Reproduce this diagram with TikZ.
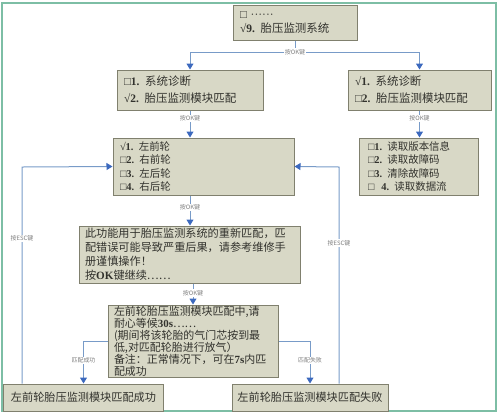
\documentclass[tikz,border=0pt]{standalone}
\usepackage{fontspec}
\setmainfont{Noto Sans CJK SC}
\newfontfamily\lat{Liberation Serif}
\usetikzlibrary{arrows.meta}
\definecolor{boxfill}{RGB}{216,216,198}
\definecolor{boxline}{RGB}{128,128,110}
\definecolor{conn}{RGB}{120,155,200}
\definecolor{tipc}{RGB}{60,105,190}
\definecolor{framec}{RGB}{125,190,165}
\definecolor{txt}{RGB}{50,50,45}
\newcommand{\nb}[1]{{\lat\bfseries #1}}
\newcommand{\sq}{{\lat □}}
\newcommand{\ck}{{\lat\bfseries √}}
\begin{document}
\begin{tikzpicture}[x=1bp,y=-1bp,
 box/.style={draw=boxline, line width=1bp, fill=boxfill, text=txt, align=left, inner ysep=0pt},
 cbox/.style={draw=boxline, line width=1bp, fill=boxfill, text=txt, align=center, inner sep=0pt},
 conn/.style={draw=conn, line width=1bp},
 arr/.style={conn, -{Triangle[length=6bp,width=7bp,color=tipc]}},
 lab/.style={fill=white, inner sep=1bp, font=\fontsize{6}{7}\selectfont, text=gray}]
\useasboundingbox (0,0) rectangle (500,417);
\draw[framec, line width=1.5bp] (2,3) rectangle (496,411);

\node[box, minimum width=124bp, minimum height=35bp, text width=110bp, inner xsep=7bp,
  font=\fontsize{11.5}{15}\selectfont] (top) at (295,22.5) {\sq\ {\lat ······}\\\ck\nb{9.} 胎压监测系统};

\node[box, minimum width=146bp, minimum height=40bp, text width=132bp, inner xsep=7bp,
  font=\fontsize{11.5}{17}\selectfont] (L2) at (190,90) {\sq\nb{1.} 系统诊断\\\ck\nb{2.} 胎压监测模块匹配};

\node[box, minimum width=143bp, minimum height=40bp, text width=129bp, inner xsep=7bp,
  font=\fontsize{11.5}{17}\selectfont] (R2) at (419.5,90) {\ck\nb{1.} 系统诊断\\\sq\nb{2.} 胎压监测模块匹配};

\node[box, minimum width=119bp, minimum height=57bp, text width=101bp, inner xsep=9bp,
  font=\fontsize{10.5}{13.5}\selectfont] (R3) at (418.5,166.5)
  {\sq\nb{1.} 读取版本信息\\\sq\nb{2.} 读取故障码\\\sq\nb{3.} 清除故障码\\\sq\ \ \nb{4.} 读取数据流};

\node[box, minimum width=181bp, minimum height=57bp, text width=167bp, inner xsep=7bp,
  font=\fontsize{10.5}{13.5}\selectfont] (W) at (203.5,166.5)
  {\ck\nb{1.} 左前轮\\\sq\nb{2.} 右前轮\\\sq\nb{3.} 左后轮\\\sq\nb{4.} 右后轮};

\node[box, minimum width=221bp, minimum height=57bp, text width=209bp, inner xsep=6bp,
  font=\fontsize{11.2}{14}\selectfont] (warn) at (189.5,254.5)
  {此功能用于胎压监测系统的重新匹配，匹\\配错误可能导致严重后果，请参考维修手\\册谨慎操作！\\按\nb{OK}键继续……};

\node[box, minimum width=170bp, minimum height=72bp, text width=158bp, inner xsep=6bp,
  font=\fontsize{11}{12}\selectfont] (match) at (193,341)
  {左前轮胎压监测模块匹配中,请\\耐心等候\nb{30s}……\\(期间将该轮胎的气门芯按到最\\低,对匹配轮胎进行放气）\\备注：正常情况下，可在\nb{7s}内匹\\配成功};

\node[cbox, minimum width=159bp, minimum height=27bp, font=\fontsize{11.2}{13}\selectfont]
  (succ) at (83.5,397.5) {左前轮胎压监测模块匹配成功};
\node[cbox, minimum width=156bp, minimum height=27bp, font=\fontsize{11.2}{13}\selectfont]
  (fail) at (310,397.5) {左前轮胎压监测模块匹配失败};

\coordinate (j) at (295,52);
\coordinate (escL) at (22,167);
\coordinate (escR) at (339,167);

\draw[conn] (top.south) -- (j);
\draw[arr] (j) -| (L2.north);
\draw[arr] (j) -| (R2.north);
\node[lab] at (j) {按OK键};

\draw[arr] (L2.south) -- (L2.south |- W.north) node[lab, pos=0.3] {按OK键};
\draw[arr] (R2.south) -- (R2.south |- R3.north) node[lab, pos=0.3] {按OK键};
\draw[arr] (L2.south |- W.south) -- (L2.south |- warn.north) node[lab, pos=0.4] {按OK键};
\draw[arr] (warn.south -| match.north) -- (match.north) node[lab, pos=0.45] {按OK键};

\draw[arr] (match.west) -| (succ.north) node[lab, pos=0.73] {匹配成功};
\draw[arr] (match.east) -| (fail.north) node[lab, pos=0.73] {匹配失败};

\draw[arr] (succ.north -| escL) -- node[lab, pos=0.67] {按ESC键} (escL) -- (W.west);
\draw[arr] (fail.north -| escR) -- node[lab, pos=0.65] {按ESC键} (escR) -- (W.east);
\end{tikzpicture}
\end{document}
